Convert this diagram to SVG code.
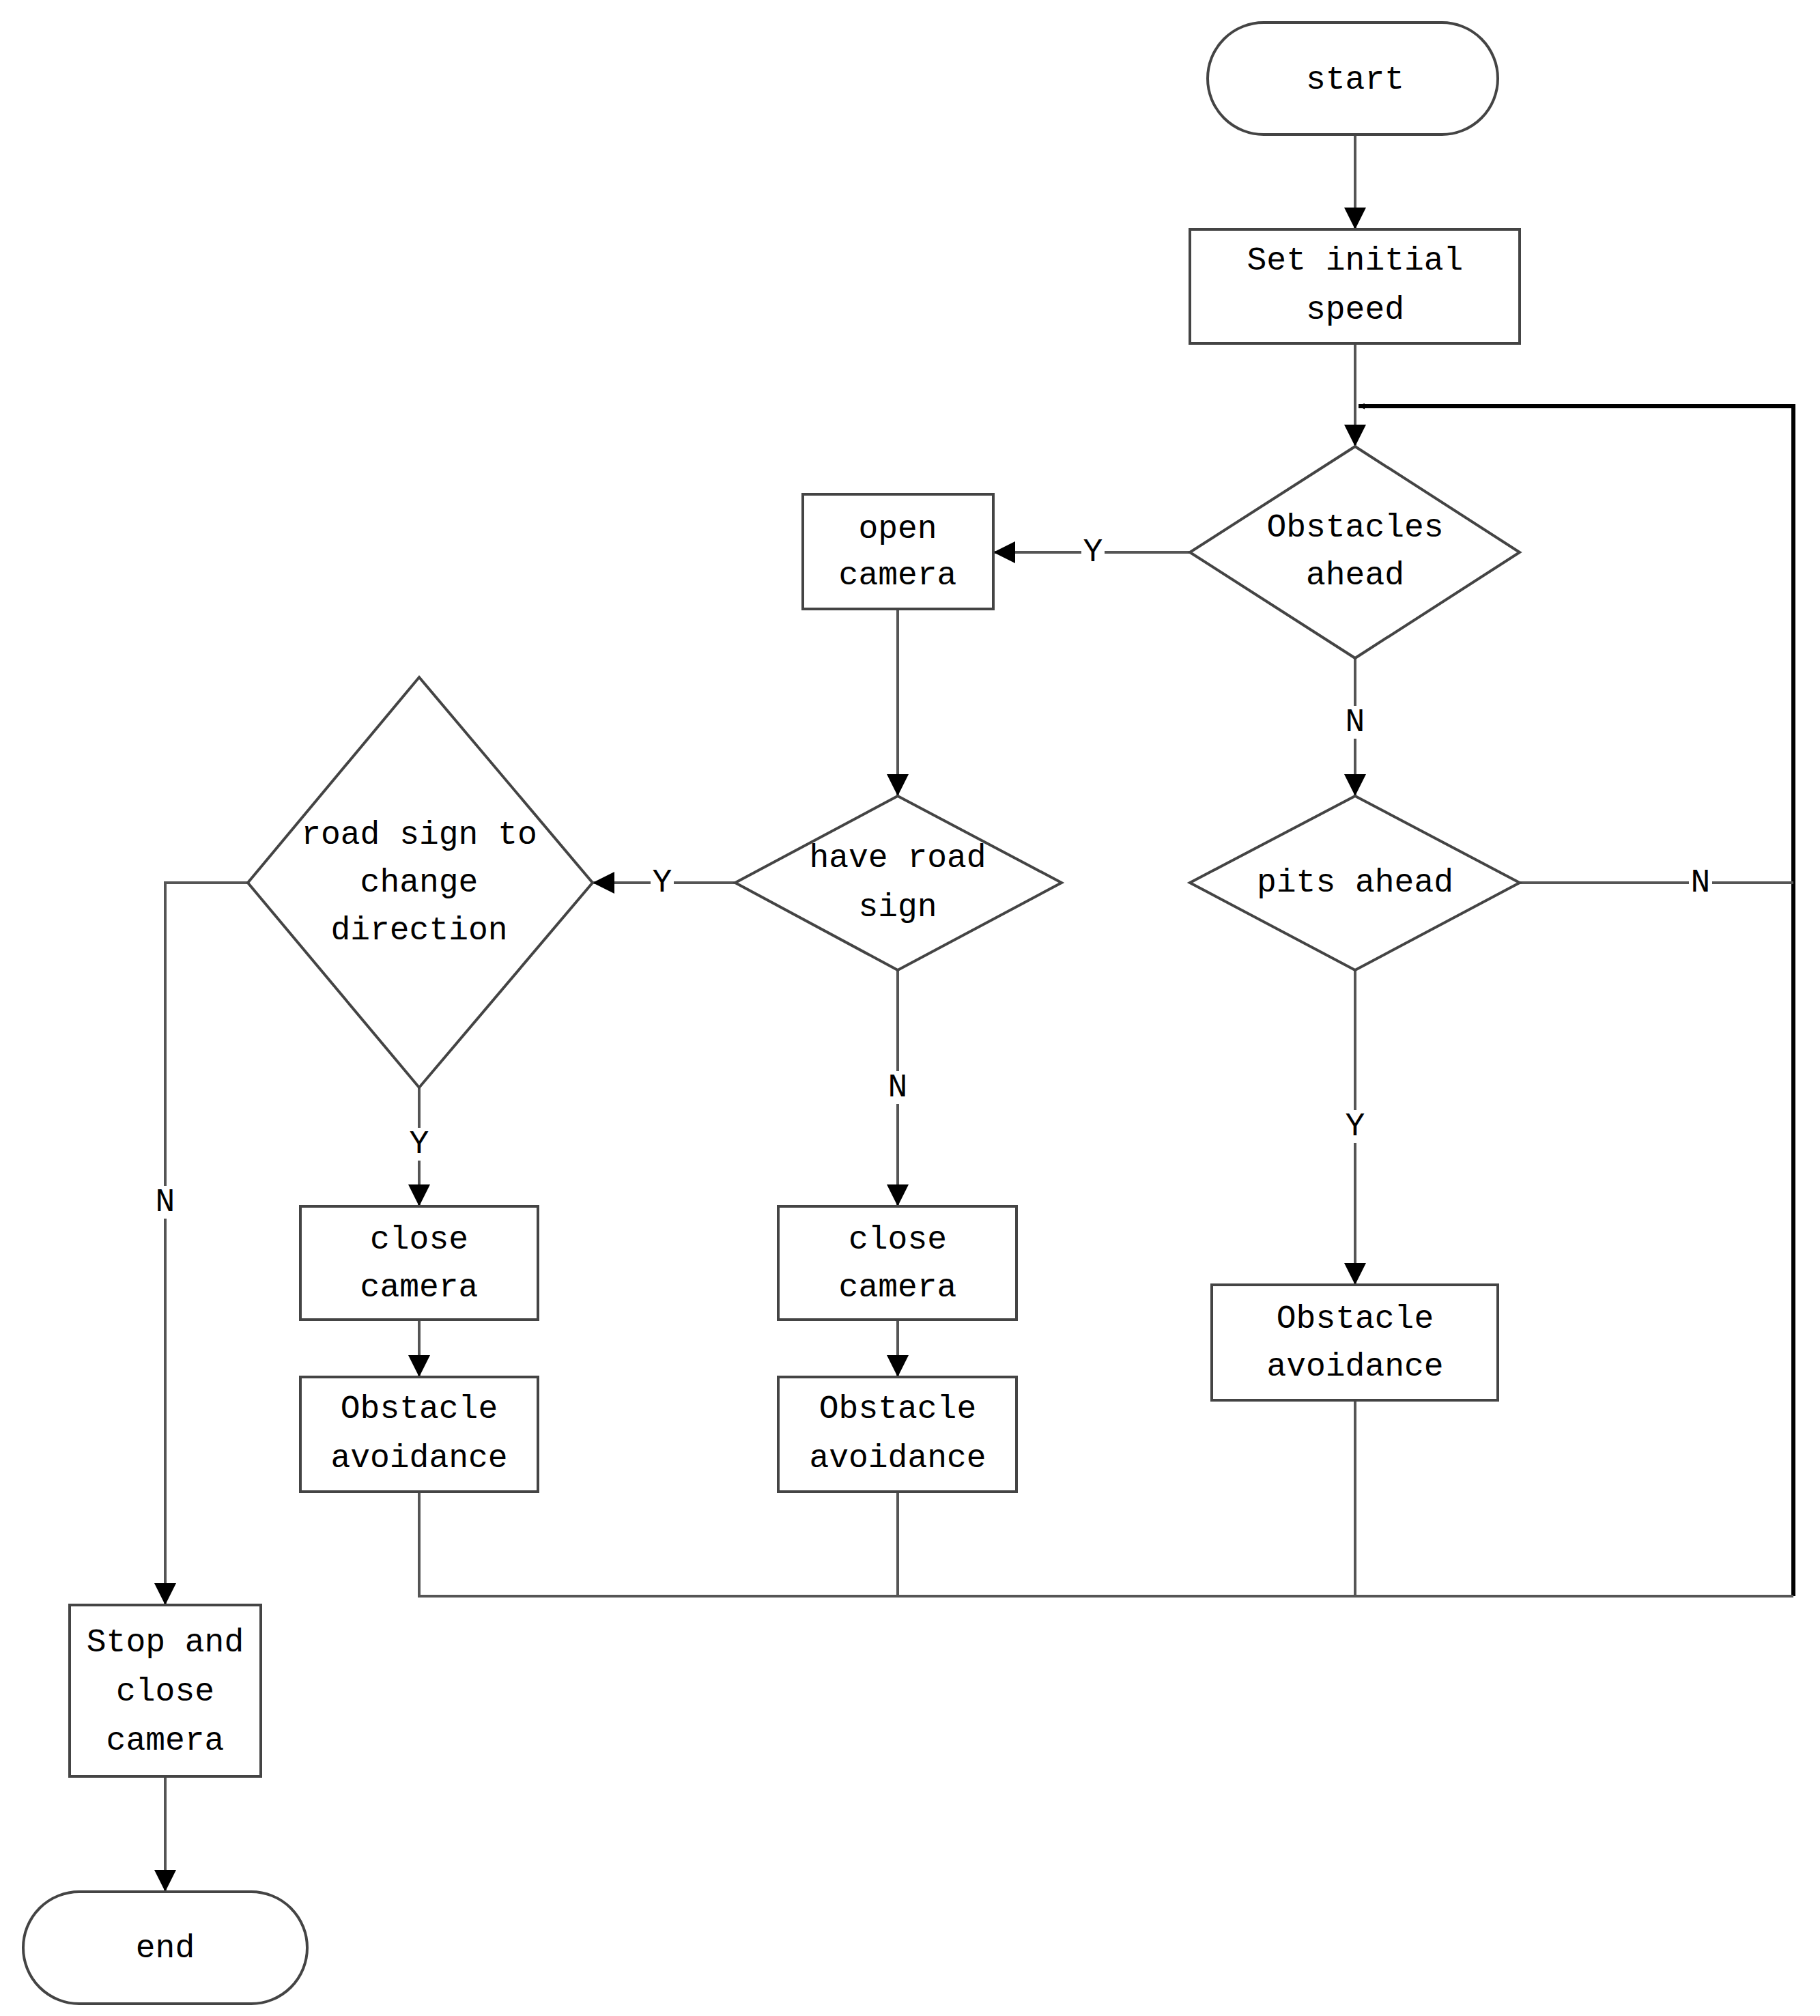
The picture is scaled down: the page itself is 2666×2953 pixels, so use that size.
<svg xmlns="http://www.w3.org/2000/svg" width="2666" height="2953" viewBox="0 0 2666 2953">
<style>
.s{fill:#fff;stroke:#444;stroke-width:4}
.c{fill:none;stroke:#555;stroke-width:4}
.t{font-family:"Liberation Mono",monospace;font-size:48px;text-anchor:middle;dominant-baseline:central;fill:#000}
.l{font-family:"Liberation Mono",monospace;font-size:48px;text-anchor:middle;dominant-baseline:central;fill:#000}
</style>
<defs><marker id="a" viewBox="0 0 10 10" refX="10" refY="5" markerWidth="9" markerHeight="9" markerUnits="userSpaceOnUse" orient="auto"><path d="M0,0L10,5L0,10z" fill="#000"/></marker>
<marker id="b" viewBox="0 0 10 10" refX="10" refY="5" markerWidth="8" markerHeight="8" orient="auto"><path d="M0,0L10,5L0,10z" fill="#000"/></marker></defs>
<rect width="2666" height="2953" fill="#fff"/>
<g id="connectors">
<path class="c" d="M1985,197V336" marker-end="url(#b)"/>
<path class="c" d="M1985,503V654" marker-end="url(#b)"/>
<path d="M2627,2338V595H1990" fill="none" stroke="#000" stroke-width="6" marker-end="url(#a)"/>
<path class="c" d="M1743,809H1455" marker-end="url(#b)"/>
<path class="c" d="M1985,964V1166" marker-end="url(#b)"/>
<path class="c" d="M2226,1293H2627"/>
<path class="c" d="M1985,1421V1882" marker-end="url(#b)"/>
<path class="c" d="M1985,2051V2338"/>
<path class="c" d="M1315,892V1166" marker-end="url(#b)"/>
<path class="c" d="M1077,1293H868" marker-end="url(#b)"/>
<path class="c" d="M1315,1421V1767" marker-end="url(#b)"/>
<path class="c" d="M1315,1933V2017" marker-end="url(#b)"/>
<path class="c" d="M1315,2185V2338"/>
<path class="c" d="M614,1593V1767" marker-end="url(#b)"/>
<path class="c" d="M614,1933V2017" marker-end="url(#b)"/>
<path class="c" d="M614,2185V2338H2627"/>
<path class="c" d="M363,1293H242V2351" marker-end="url(#b)"/>
<path class="c" d="M242,2602V2771" marker-end="url(#b)"/>
<g>
<rect x="1584" y="785" width="34" height="48" fill="#fff"/><text class="l" x="1601" y="809">Y</text>
<rect x="1968" y="1034" width="34" height="48" fill="#fff"/><text class="l" x="1985" y="1058">N</text>
<rect x="2474" y="1269" width="34" height="48" fill="#fff"/><text class="l" x="2491" y="1293">N</text>
<rect x="1968" y="1626" width="34" height="48" fill="#fff"/><text class="l" x="1985" y="1650">Y</text>
<rect x="1298" y="1569" width="34" height="48" fill="#fff"/><text class="l" x="1315" y="1593">N</text>
<rect x="953" y="1269" width="34" height="48" fill="#fff"/><text class="l" x="970" y="1293">Y</text>
<rect x="597" y="1652" width="34" height="48" fill="#fff"/><text class="l" x="614" y="1676">Y</text>
<rect x="225" y="1737" width="34" height="48" fill="#fff"/><text class="l" x="242" y="1761">N</text>
</g>
</g>
<g id="start"><rect class="s" x="1769" y="33" width="425" height="164" rx="82"/><text class="t" x="1985" y="117">start</text></g>
<g id="setspeed"><rect class="s" x="1743" y="336" width="483" height="167"/><text class="t" x="1985" y="382">Set initial</text><text class="t" x="1985" y="454">speed</text></g>
<g id="obstacles"><path class="s" d="M1985,654L2226,809L1985,964L1743,809Z"/><text class="t" x="1985" y="773">Obstacles</text><text class="t" x="1985" y="843">ahead</text></g>
<g id="opencamera"><rect class="s" x="1176" y="724" width="279" height="168"/><text class="t" x="1315" y="775">open</text><text class="t" x="1315" y="843">camera</text></g>
<g id="pits"><path class="s" d="M1985,1166L2226,1293L1985,1421L1743,1293Z"/><text class="t" x="1985" y="1293">pits ahead</text></g>
<g id="obsav3"><rect class="s" x="1775" y="1882" width="419" height="169"/><text class="t" x="1985" y="1932">Obstacle</text><text class="t" x="1985" y="2002">avoidance</text></g>
<g id="haveroadsign"><path class="s" d="M1315,1166L1555,1293L1315,1421L1077,1293Z"/><text class="t" x="1315" y="1257">have road</text><text class="t" x="1315" y="1329">sign</text></g>
<g id="close2"><rect class="s" x="1140" y="1767" width="349" height="166"/><text class="t" x="1315" y="1816">close</text><text class="t" x="1315" y="1886">camera</text></g>
<g id="obsav2"><rect class="s" x="1140" y="2017" width="349" height="168"/><text class="t" x="1315" y="2064">Obstacle</text><text class="t" x="1315" y="2136">avoidance</text></g>
<g id="roadsign"><path class="s" d="M614,992L868,1293L614,1593L363,1293Z"/><text class="t" x="614" y="1223">road sign to</text><text class="t" x="614" y="1293">change</text><text class="t" x="614" y="1363">direction</text></g>
<g id="close1"><rect class="s" x="440" y="1767" width="348" height="166"/><text class="t" x="614" y="1816">close</text><text class="t" x="614" y="1886">camera</text></g>
<g id="obsav1"><rect class="s" x="440" y="2017" width="348" height="168"/><text class="t" x="614" y="2064">Obstacle</text><text class="t" x="614" y="2136">avoidance</text></g>
<g id="stop"><rect class="s" x="102" y="2351" width="280" height="251"/><text class="t" x="242" y="2406">Stop and</text><text class="t" x="242" y="2478">close</text><text class="t" x="242" y="2550">camera</text></g>
<g id="end"><rect class="s" x="34" y="2771" width="416" height="164" rx="82"/><text class="t" x="242" y="2854">end</text></g>
</svg>
